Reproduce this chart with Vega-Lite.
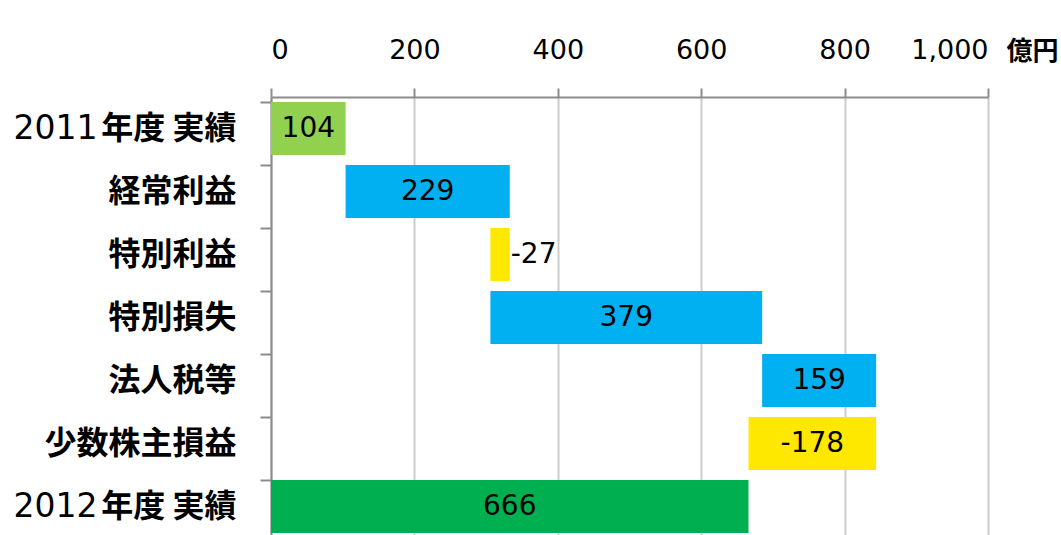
{
  "$schema": "https://vega.github.io/schema/vega-lite/v6.json",
  "width": 717,
  "height": 441,
  "autosize": {"type": "none"},
  "padding": {"left": 271, "top": 97, "right": 73, "bottom": 0},
  "background": "#ffffff",
  "config": {"view": {"stroke": null}, "font": "DejaVu Sans"},
  "data": {
    "values": [
      {"order": 1, "cat": "2011年度 実績", "value": 104, "kind": "実績2011"},
      {"order": 2, "cat": "経常利益", "value": 229, "kind": "増加"},
      {"order": 3, "cat": "特別利益", "value": -27, "kind": "減少"},
      {"order": 4, "cat": "特別損失", "value": 379, "kind": "増加"},
      {"order": 5, "cat": "法人税等", "value": 159, "kind": "増加"},
      {"order": 6, "cat": "少数株主損益", "value": -178, "kind": "減少"},
      {"order": 7, "cat": "2012年度 実績", "value": 666, "kind": "実績2012"}
    ]
  },
  "transform": [
    {"calculate": "datum.kind === '実績2012' ? 0 : datum.value", "as": "step"},
    {"window": [{"op": "sum", "field": "step", "as": "cum"}], "sort": [{"field": "order"}], "frame": [null, 0]},
    {"calculate": "datum.kind === '実績2012' ? 0 : min(datum.cum, datum.cum - datum.value)", "as": "lo"},
    {"calculate": "datum.kind === '実績2012' ? datum.value : max(datum.cum, datum.cum - datum.value)", "as": "hi"},
    {"calculate": "(datum.lo + datum.hi) / 2", "as": "mid"},
    {"calculate": "toString(datum.value)", "as": "label"}
  ],
  "layer": [
    {
      "mark": {"type": "bar"},
      "encoding": {
        "y": {
          "field": "cat",
          "type": "nominal",
          "sort": ["2011年度 実績", "経常利益", "特別利益", "特別損失", "法人税等", "少数株主損益", "2012年度 実績"],
          "scale": {"paddingInner": 0.16, "paddingOuter": 0.08},
          "axis": {
            "orient": "left",
            "title": null,
            "domainColor": "#8c8c8c",
            "domainWidth": 2,
            "tickColor": "#8c8c8c",
            "tickWidth": 2,
            "tickSize": 11,
            "bandPosition": 0,
            "labelFont": "Noto Sans CJK JP",
            "labelFontWeight": "bold",
            "labelFontSize": 32,
            "labelColor": "#000000",
            "labelPadding": 24,
            "labelLimit": 0,
            "labelExpr": "test(/^[0-9]/, datum.value) ? substring(datum.value, 4) : datum.value"
          }
        },
        "x": {
          "field": "lo",
          "type": "quantitative",
          "scale": {"domain": [0, 1000]},
          "axis": {
            "orient": "top",
            "values": [0, 200, 400, 600, 800, 1000],
            "format": ",d",
            "grid": true,
            "gridColor": "#cccccc",
            "gridWidth": 2,
            "domainColor": "#8c8c8c",
            "domainWidth": 2,
            "tickColor": "#8c8c8c",
            "tickWidth": 2,
            "tickSize": 9,
            "labelFont": "DejaVu Sans",
            "labelFontSize": 27,
            "labelColor": "#000000",
            "labelPadding": 24,
            "title": "億円",
            "titleFont": "Noto Sans CJK JP",
            "titleFontWeight": "bold",
            "titleFontSize": 26,
            "titleColor": "#000000",
            "titleX": 787,
            "titleY": -46,
            "titleAlign": "right",
            "titleBaseline": "middle",
            "titleAngle": 0
          }
        },
        "x2": {"field": "hi"},
        "color": {
          "field": "kind",
          "type": "nominal",
          "scale": {
            "domain": ["実績2011", "増加", "減少", "実績2012"],
            "range": ["#92d050", "#00b0f0", "#ffe800", "#00b050"]
          },
          "legend": null
        }
      }
    },
    {
      "transform": [{"filter": "abs(datum.value) >= 50"}],
      "mark": {"type": "text", "font": "DejaVu Sans", "fontSize": 28, "color": "#000000", "align": "center", "baseline": "middle"},
      "encoding": {
        "y": {
          "field": "cat",
          "type": "nominal",
          "sort": ["2011年度 実績", "経常利益", "特別利益", "特別損失", "法人税等", "少数株主損益", "2012年度 実績"],
          "axis": {
            "orient": "left",
            "title": null,
            "domain": false,
            "ticks": false,
            "grid": false,
            "labelFont": "DejaVu Sans",
            "labelFontSize": 33,
            "labelColor": "#000000",
            "labelPadding": 174,
            "labelLimit": 0,
            "labelExpr": "test(/^[0-9]/, datum.value) ? substring(datum.value, 0, 4) : ''"
          }
        },
        "x": {"field": "mid", "type": "quantitative", "title": "億円"},
        "text": {"field": "label", "type": "nominal"}
      }
    },
    {
      "transform": [{"filter": "abs(datum.value) < 50"}],
      "mark": {"type": "text", "font": "DejaVu Sans", "fontSize": 28, "color": "#000000", "align": "left", "baseline": "middle", "dx": 1},
      "encoding": {
        "y": {
          "field": "cat",
          "type": "nominal",
          "sort": ["2011年度 実績", "経常利益", "特別利益", "特別損失", "法人税等", "少数株主損益", "2012年度 実績"],
          "axis": null
        },
        "x": {"field": "hi", "type": "quantitative", "title": "億円"},
        "text": {"field": "label", "type": "nominal"}
      }
    }
  ],
  "resolve": {"axis": {"y": "independent"}}
}
